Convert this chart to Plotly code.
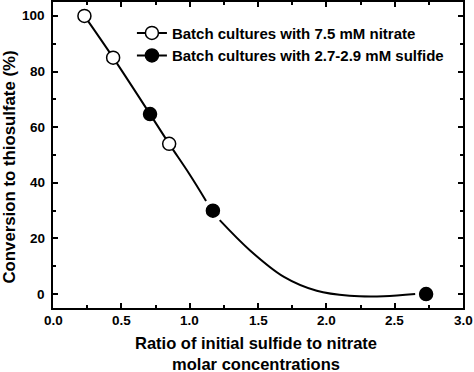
import plotly.graph_objects as go

# Data
nitrate_x = [0.23, 0.44, 0.85]
nitrate_y = [100, 85, 54]
sulfide_x = [0.71, 1.17, 2.73]
sulfide_y = [64.7, 30, 0]
curve_x = [0.23, 0.44, 0.71, 0.85, 1.0, 1.12, None, 1.22, 1.44, 1.69, 1.93, 2.17, 2.42, 2.65]
curve_y = [100, 85, 64.7, 54, 43, 33.5, None, 26.6, 15.8, 6.2, 1.2, -0.6, -0.8, 0]
x_ticks = [0.0, 0.5, 1.0, 1.5, 2.0, 2.5, 3.0]
x_tick_labels = ["0.0", "0.5", "1.0", "1.5", "2.0", "2.5", "3.0"]
y_ticks = [0, 20, 40, 60, 80, 100]
y_tick_labels = ["0", "20", "40", "60", "80", "100"]
legend_names = ["Batch cultures with 7.5 mM nitrate", "Batch cultures with 2.7-2.9 mM sulfide"]
x_title = "Ratio of initial sulfide to nitrate<br>molar concentrations"
y_title = "Conversion to thiosulfate (%)"

FONT = "Liberation Sans, Arial, sans-serif"
TICKFONT = dict(family=FONT, size=13.5, color="black", weight="bold")

fig = go.Figure()
fig.add_trace(go.Scatter(x=curve_x, y=curve_y, mode="lines", line=dict(color="black", width=2, shape="spline"),
                         connectgaps=False, showlegend=False, hoverinfo="skip"))
fig.add_trace(go.Scatter(x=nitrate_x, y=nitrate_y, mode="markers",
                         marker=dict(symbol="circle", size=13, color="white", line=dict(color="black", width=1.5)),
                         showlegend=False))
fig.add_trace(go.Scatter(x=sulfide_x, y=sulfide_y, mode="markers",
                         marker=dict(symbol="circle", size=13, color="black", line=dict(color="black", width=1.5)),
                         showlegend=False, cliponaxis=False))
# legend entries
fig.add_trace(go.Scatter(x=[None], y=[None], mode="lines+markers", name=legend_names[0],
                         line=dict(color="black", width=2),
                         marker=dict(symbol="circle", size=13, color="white", line=dict(color="black", width=1.5))))
fig.add_trace(go.Scatter(x=[None], y=[None], mode="lines+markers", name=legend_names[1],
                         line=dict(color="black", width=2),
                         marker=dict(symbol="circle", size=13, color="black", line=dict(color="black", width=1.5))))

axis_common = dict(showline=True, linecolor="black", linewidth=2, mirror="ticks", ticks="inside",
                   ticklen=5, tickwidth=1.5, tickcolor="black", showgrid=False, zeroline=False,
                   showticklabels=False, automargin=False)

fig.update_xaxes(range=[0, 3], tickvals=x_ticks,
                 minor=dict(ticks="inside", dtick=0.25, ticklen=3, tickwidth=1.5, tickcolor="black", showgrid=False),
                 **axis_common)
fig.update_yaxes(range=[-5, 105], tickvals=y_ticks,
                 minor=dict(ticks="inside", dtick=10, ticklen=3, tickwidth=1.5, tickcolor="black", showgrid=False),
                 **axis_common)

# tick labels placed as in the reference
for xv, lab in zip(x_ticks, x_tick_labels):
    fig.add_annotation(text=lab, x=xv, xref="x", y=-0.041, yref="paper",
                       xanchor="center", yanchor="middle", showarrow=False, font=TICKFONT)
for yv, lab in zip(y_ticks, y_tick_labels):
    fig.add_annotation(text=lab, x=0, xref="paper", y=yv, yref="y", xshift=-6,
                       xanchor="right", yanchor="middle", showarrow=False, font=TICKFONT)

fig.add_annotation(text=x_title, xref="paper", yref="paper", x=0.495, y=-0.148,
                   xanchor="center", yanchor="middle", showarrow=False,
                   font=dict(family=FONT, size=16.5, color="black", weight="bold"))
fig.add_annotation(text=y_title, xref="paper", yref="paper", x=-0.105, y=0.462, textangle=-90,
                   xanchor="center", yanchor="middle", showarrow=False,
                   font=dict(family=FONT, size=16.8, color="black", weight="bold"))

fig.update_layout(
    width=474, height=372,
    margin=dict(l=53, r=11, t=2, b=64, autoexpand=False),
    plot_bgcolor="white", paper_bgcolor="white",
    legend=dict(x=0.1925, y=0.952, xanchor="left", yanchor="top", bgcolor="rgba(0,0,0,0)",
                font=dict(family=FONT, size=15, color="black", weight="bold"),
                tracegroupgap=0, itemwidth=30),
    showlegend=True,
)

fig.write_html("out.html", post_script="document.body.style.margin='0';",
               config={"displayModeBar": False})
